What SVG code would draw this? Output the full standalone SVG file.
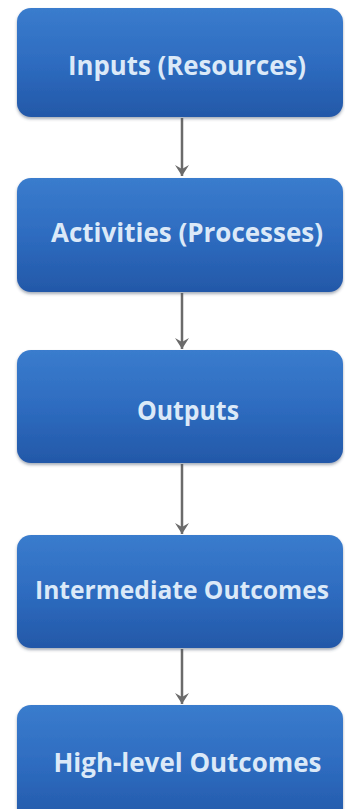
<svg xmlns="http://www.w3.org/2000/svg" width="345" height="809" viewBox="0 0 345 809">
<defs>
<linearGradient id="g" x1="0" y1="0" x2="0" y2="1">
<stop offset="0" stop-color="#3a7ccd"/>
<stop offset="0.5" stop-color="#2e6cc0"/>
<stop offset="1" stop-color="#2358a8"/>
</linearGradient>
<marker id="ah" viewBox="0 0 14 16" refX="12" refY="8" markerWidth="14" markerHeight="16" markerUnits="userSpaceOnUse" orient="auto">
<path d="M1,1 L12,8 L1,15 L5,8 Z" fill="#6b6b6b"/>
</marker>
<filter id="sh" x="-5%" y="-5%" width="110%" height="120%">
<feDropShadow dx="0" dy="2" stdDeviation="1.5" flood-color="#3a4a60" flood-opacity="0.45"/>
</filter>
</defs>
<style>
.box{fill:url(#g);filter:url(#sh);}
.lbl{font-family:"Open Sans","Liberation Sans",sans-serif;font-weight:bold;font-size:27px;fill:#dbe9f8;text-anchor:middle;}
.sm{font-size:25px;}
.con{stroke:#6b6b6b;stroke-width:2.5;fill:none;}
</style>
<rect width="345" height="809" fill="#ffffff"/>
<g id="connectors">
<line class="con" x1="182" y1="118" x2="182" y2="176" marker-end="url(#ah)"/>
<line class="con" x1="182" y1="293" x2="182" y2="349" marker-end="url(#ah)"/>
<line class="con" x1="182" y1="464" x2="182" y2="534" marker-end="url(#ah)"/>
<line class="con" x1="182" y1="649" x2="182" y2="704" marker-end="url(#ah)"/>
</g>
<g id="inputs">
<rect class="box" x="17" y="8" width="326" height="109" rx="14"/>
<text class="lbl" x="187" y="75" textLength="238" lengthAdjust="spacingAndGlyphs">Inputs (Resources)</text>
</g>
<g id="activities">
<rect class="box" x="17" y="178" width="326" height="114" rx="14"/>
<text class="lbl" x="187" y="242" textLength="272" lengthAdjust="spacingAndGlyphs">Activities (Processes)</text>
</g>
<g id="outputs">
<rect class="box" x="17" y="350" width="326" height="113" rx="14"/>
<text class="lbl" x="188" y="420" textLength="102" lengthAdjust="spacingAndGlyphs">Outputs</text>
</g>
<g id="intermediate">
<rect class="box" x="17" y="535" width="326" height="113" rx="14"/>
<text class="lbl sm" x="182" y="599" textLength="294" lengthAdjust="spacingAndGlyphs">Intermediate Outcomes</text>
</g>
<g id="highlevel">
<rect class="box" x="17" y="705" width="326" height="120" rx="14"/>
<text class="lbl" x="187.5" y="772" textLength="268" lengthAdjust="spacingAndGlyphs">High-level Outcomes</text>
</g>
</svg>
